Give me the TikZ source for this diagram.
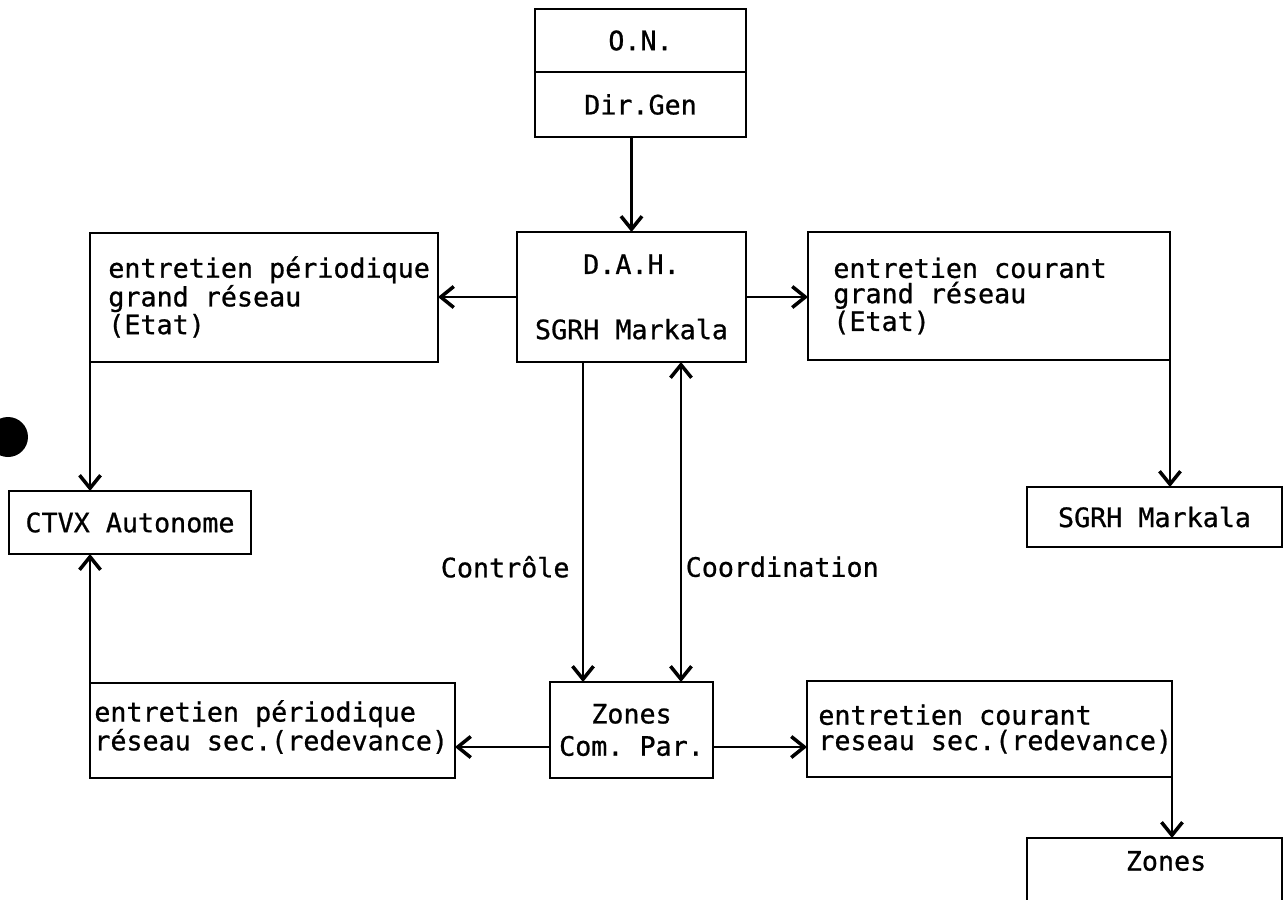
\documentclass[tikz,border=0pt]{standalone}
\usepackage{fontspec}
\setmonofont[FakeBold=0.8]{DejaVu Sans Mono}
\usetikzlibrary{arrows.meta,positioning}
\newcommand\diagfont{\ttfamily\fontsize{15.2}{14.4}\selectfont}
\tikzset{
  barb/.tip={Straight Barb[length=2.6mm,width=4.2mm,line width=2pt]},
  box/.style={draw, line width=1.4pt, inner sep=0pt, outer sep=0pt, align=center},
  txt/.style={inner sep=0pt, align=left, anchor=west},
  lbl/.style={inner sep=2pt},
  arr/.style={line width=1.4pt, -barb},
  arrboth/.style={line width=1.4pt, barb-barb},
}
\begin{document}
\begin{tikzpicture}[x=0.02cm, y=-0.02cm, font=\diagfont]
  \clip (0,0) rectangle (1283,899);

  % direction
  \node[box, minimum width=4.22cm, minimum height=1.26cm] (on) at (640.5,40.5) {O.N.};
  \node[box, minimum width=4.22cm, minimum height=1.30cm, below=0pt of on] (dirgen) {Dir.Gen};
  \node[box, minimum width=4.58cm, minimum height=2.6cm] (dah) at (631.5,297) {D.A.H.\\[0.8cm]SGRH Markala};

  % grand reseau
  \node[box, minimum width=6.96cm, minimum height=2.58cm] (ept) at (264,297.5) {};
  \node[txt] (ept-t) at (108,297) {entretien périodique\\grand réseau\\(Etat)};
  \node[box, minimum width=7.24cm, minimum height=2.56cm] (ecg) at (989,296) {};
  \node[txt] (ecg-t) at (833,296) {entretien courant\\grand réseau\\(Etat)};
  \node[box, minimum width=4.84cm, minimum height=1.26cm] (ctvx) at (130,522.5) {CTVX Autonome};
  \node[box, minimum width=5.1cm, minimum height=1.2cm] (sgrh) at (1154.5,517) {SGRH Markala};

  % reseau secondaire
  \node[box, minimum width=3.26cm, minimum height=1.92cm] (zcp) at (631.5,730) {Zones\\[0.14cm]Com. Par.};
  \node[box, minimum width=7.3cm, minimum height=1.9cm] (epr) at (272.5,730.5) {};
  \node[txt] (epr-t) at (94,727) {entretien périodique\\réseau sec.(redevance)};
  \node[box, minimum width=7.3cm, minimum height=1.92cm] (ecr) at (989.5,729) {};
  \node[txt] (ecr-t) at (818,729) {entretien courant\\reseau sec.(redevance)};
  \node[box, minimum width=5.1cm, minimum height=2.4cm, anchor=north] (zones) at (1154.5,838) {};
  \node[txt, anchor=center] (zones-t) at (1166,861) {Zones};

  \node[circle, fill, inner sep=0pt, minimum size=0.8cm] (hole) at (8,437) {};

  \draw[arr] (dah.north |- dirgen.south) -- (dah.north);
  \draw[arr] (dah.west) -- (dah.west -| ept.east);
  \draw[arr] (dah.east) -- (dah.east -| ecg.west);
  \draw[arr] (ept.south west) -- (ept.south west |- ctvx.north);
  \draw[arr] (ecg.south east) -- (ecg.south east |- sgrh.north);
  \draw[arr] ([xshift=-0.97cm]dah.south) -- ([xshift=-0.97cm]dah.south |- zcp.north)
    node[lbl, pos=0.64, left=5pt] (ctrl) {Contrôle};
  \draw[arrboth] ([xshift=0.99cm]dah.south) -- ([xshift=0.99cm]dah.south |- zcp.north)
    node[lbl, pos=0.64, right=0pt] (coord) {Coordination};
  \draw[arr] ([yshift=-0.34cm]zcp.west) -- ([yshift=-0.34cm]zcp.west -| epr.east);
  \draw[arr] ([yshift=-0.34cm]zcp.east) -- ([yshift=-0.34cm]zcp.east -| ecr.west);
  \draw[arr] (epr.north west) -- (epr.north west |- ctvx.south);
  \draw[arr] (ecr.south east) -- (ecr.south east |- zones.north);
\end{tikzpicture}
\end{document}
